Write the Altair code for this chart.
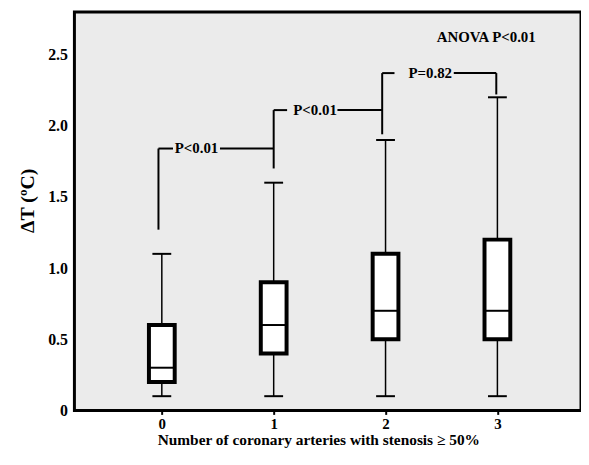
import altair as alt
import pandas as pd

# Box-plot summary values
groups = [0, 1, 2, 3]
whisker_low = [0.1, 0.1, 0.1, 0.1]
q1 = [0.2, 0.4, 0.5, 0.5]
median = [0.3, 0.6, 0.7, 0.7]
q3 = [0.6, 0.9, 1.1, 1.2]
whisker_high = [1.1, 1.6, 1.9, 2.2]

# Significance brackets
v_x = [-0.03, 1.0, 1.97, 2.99]
v_y1 = [1.27, 1.70, 1.94, 2.22]
v_y2 = [1.84, 2.11, 2.37, 2.37]
h_x1 = [-0.03, 0.52, 1.0, 1.57, 1.97, 2.61]
h_x2 = [0.10, 1.0, 1.12, 1.97, 2.08, 2.99]
h_y = [1.84, 1.84, 2.11, 2.11, 2.37, 2.37]
p_x = [0.31, 1.37, 2.40, 2.90]
p_y = [1.84, 2.11, 2.37, 2.62]
p_text = ["P<0.01", "P<0.01", "P=0.82", "ANOVA P<0.01"]

FONT = "Liberation Serif"

boxes = pd.DataFrame({"g": groups, "lo": whisker_low, "q1": q1, "med": median,
                      "q3": q3, "hi": whisker_high})
vseg = pd.DataFrame({"x": v_x, "y1": v_y1, "y2": v_y2})
hseg = pd.DataFrame({"x1": h_x1, "x2": h_x2, "y": h_y})
plab = pd.DataFrame({"x": p_x, "y": p_y, "t": p_text})

xs = alt.Scale(domain=[-0.737, 3.703], nice=False, zero=False)
ys = alt.Scale(domain=[0, 2.8], nice=False)

x_axis = alt.Axis(values=[0, 1, 2, 3], format="d", grid=False, domain=False,
                  tickColor="black", tickWidth=2, tickSize=4,
                  labelFont=FONT, labelFontWeight="bold", labelFontSize=15,
                  labelColor="black", labelPadding=2,
                  title="Number of coronary arteries with stenosis ≥ 50%",
                  titleFont=FONT, titleFontWeight="bold", titleFontSize=15.5,
                  titleColor="black", titlePadding=1, titleX=246,
                  titleAlign="center")
y_axis = alt.Axis(values=[0, 0.5, 1.0, 1.5, 2.0, 2.5], grid=False, domain=False,
                  ticks=False, labelFont=FONT, labelFontWeight="bold",
                  labelFontSize=16, labelColor="black", labelPadding=7,
                  labelExpr="datum.value == 0 ? '0' : format(datum.value, '.1f')",
                  minExtent=67, maxExtent=67,
                  title="ΔT (ºC)", titleFont=FONT, titleFontWeight="bold",
                  titleFontSize=20, titleColor="black", titleX=-47, titleY=190,
                  titleAlign="center", titleBaseline="middle", titleAngle=-90)


def X(f):
    return alt.X(f, type="quantitative", scale=xs, axis=x_axis)


def Y(f):
    return alt.Y(f, type="quantitative", scale=ys, axis=y_axis)


base = alt.Chart(boxes)

whisk = base.mark_rule(color="black", strokeWidth=1.5).encode(
    x=X("g"), y=Y("lo"), y2="hi:Q")
caps_lo = base.mark_tick(color="black", opacity=1, orient="horizontal", size=19,
                         thickness=2).encode(x=X("g"), y=Y("lo"))
caps_hi = base.mark_tick(color="black", opacity=1, orient="horizontal", size=19,
                         thickness=2).encode(x=X("g"), y=Y("hi"))
box = base.mark_bar(size=26, fill="white", stroke="black", strokeWidth=4,
                    opacity=1).encode(x=X("g"), y=Y("q1"), y2="q3:Q")
med = base.mark_tick(color="black", opacity=1, orient="horizontal", size=27,
                     thickness=2).encode(x=X("g"), y=Y("med"))

vr = alt.Chart(vseg).mark_rule(color="black", strokeWidth=2).encode(
    x=X("x"), y=Y("y1"), y2="y2:Q")
hr = alt.Chart(hseg).mark_rule(color="black", strokeWidth=2).encode(
    x=X("x1"), x2="x2:Q", y=Y("y"))
txt = alt.Chart(plab).mark_text(font=FONT, fontWeight="bold", fontSize=15, color="black",
                                align="center", baseline="middle").encode(
    x=X("x"), y=Y("y"), text="t:N")

chart = alt.layer(whisk, caps_lo, caps_hi, box, med, vr, hr, txt).properties(
    width=511, height=402,
    padding={"left": 0, "top": 2, "right": 0, "bottom": 0},
    background="white",
).configure_view(fill="#ebebeb", stroke="black", strokeWidth=3)

chart.save("out.html", embed_options={"renderer": "svg", "actions": False})
